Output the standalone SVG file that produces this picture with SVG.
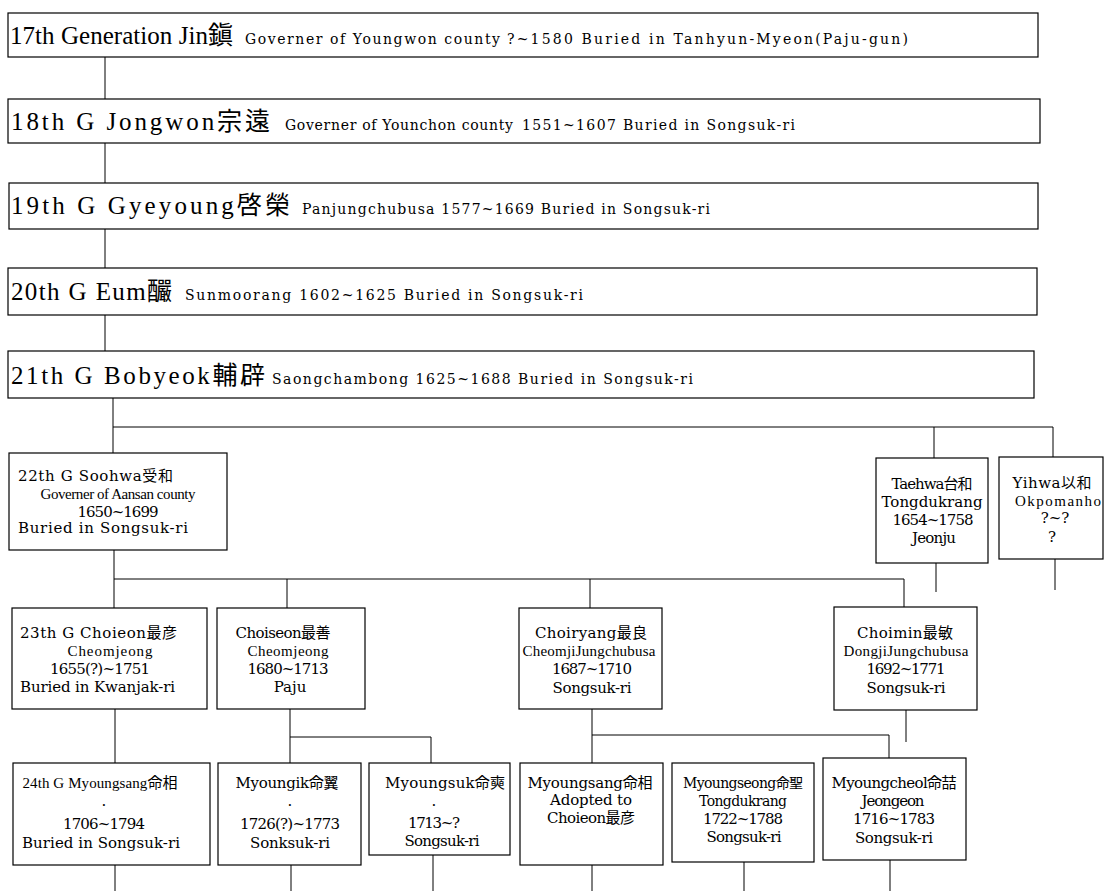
<svg xmlns="http://www.w3.org/2000/svg" width="1105" height="891" viewBox="0 0 1105 891">
<style>
text{font-family:"DejaVu Serif","Noto Sans CJK KR",serif;fill:#000}
.big{font-family:"Liberation Serif","Noto Sans CJK KR",serif;font-size:25px}
.sm{font-size:14px}
.n{font-size:15px}
.s14{font-size:14px}
.cd{font-family:"Liberation Serif","Noto Sans CJK KR",serif;font-size:15px}
.c{text-anchor:middle}
rect{fill:#fff;stroke:#000;stroke-width:1.2}
#connectors path{fill:none;stroke:#000;stroke-width:1}
</style>
<rect x="0" y="0" width="1105" height="891" style="stroke:none"/>
<g id="connectors">
<path d="M105 57V99M105 143V183M105 229V268M105 315V351"/>
<path d="M113 398V453M113 427H1053M934 427V458M1053 427V457"/>
<path d="M936 563V592M1055 559V590"/>
<path d="M114 550V608M114 579H904M287 579V608M590 579V608M904 579V607"/>
<path d="M115 709V763"/>
<path d="M290 709V763M290 737H431V763"/>
<path d="M592 709V763M592 735H889V758"/>
<path d="M906 710V742"/>
<path d="M115 865V891M291 865V891M433 855V891M592 865V891M744 862V891M890 860V891"/>
</g>
<g id="g17">
<rect x="8" y="13" width="1030" height="44"/>
<text class="big" x="10" y="44" textLength="223">17th Generation Jin鎭</text>
<text class="sm" x="245" y="44" textLength="255">Governer of Youngwon county</text>
<text class="sm" x="507" y="44" textLength="401">?~1580 Buried in Tanhyun-Myeon(Paju-gun)</text>
</g>
<g id="g18">
<rect x="8" y="99" width="1032" height="44"/>
<text class="big" x="11" y="130" textLength="259">18th G Jongwon宗遠</text>
<text class="sm" x="285" y="130" textLength="228">Governer of Younchon county</text>
<text class="sm" x="522" y="130" textLength="273">1551~1607 Buried in Songsuk-ri</text>
</g>
<g id="g19">
<rect x="9" y="183" width="1029" height="46"/>
<text class="big" x="11" y="214" textLength="279">19th G Gyeyoung啓榮</text>
<text class="sm" x="302" y="214" textLength="408">Panjungchubusa 1577~1669 Buried in Songsuk-ri</text>
</g>
<g id="g20">
<rect x="8" y="268" width="1029" height="47"/>
<text class="big" x="11" y="300" textLength="161">20th G Eum釅</text>
<text class="sm" x="185" y="300" textLength="398">Sunmoorang 1602~1625 Buried in Songsuk-ri</text>
</g>
<g id="g21">
<rect x="8" y="351" width="1026" height="47"/>
<text class="big" x="11" y="384" textLength="254">21th G Bobyeok輔辟</text>
<text class="sm" x="272" y="384" textLength="421">Saongchambong 1625~1688 Buried in Songsuk-ri</text>
</g>
<g id="soohwa">
<rect x="9" y="453" width="218" height="97"/>
<text class="n" x="18" y="481" textLength="155">22th G Soohwa受和</text>
<text class="cd c" x="118" y="499" textLength="155">Governer of Aansan county</text>
<text class="n c" x="118" y="517" textLength="81">1650~1699</text>
<text class="n" x="18" y="533" textLength="170">Buried in Songsuk-ri</text>
</g>
<g id="taehwa">
<rect x="876" y="458" width="112" height="105"/>
<text class="n c" x="932" y="489" textLength="81">Taehwa台和</text>
<text class="n c" x="932" y="507" textLength="101">Tongdukrang</text>
<text class="n c" x="933" y="525" textLength="81">1654~1758</text>
<text class="n c" x="934" y="543" textLength="44">Jeonju</text>
</g>
<g id="yihwa">
<rect x="999" y="457" width="104" height="102"/>
<text class="n c" x="1052" y="488" textLength="79">Yihwa以和</text>
<text class="cd c" x="1058" y="506" textLength="86">Okpomanho</text>
<text class="n c" x="1055" y="523">?~?</text>
<text class="n c" x="1052" y="542">?</text>
</g>
<g id="choieon">
<rect x="12" y="608" width="195" height="101"/>
<text class="n" x="20" y="638" textLength="157">23th G Choieon最彦</text>
<text class="cd c" x="110" y="656" textLength="85">Cheomjeong</text>
<text class="n c" x="100" y="674" textLength="100">1655(?)~1751</text>
<text class="n" x="20" y="692" textLength="155">Buried in Kwanjak-ri</text>
</g>
<g id="choiseon">
<rect x="217" y="608" width="148" height="101"/>
<text class="n c" x="283" y="638" textLength="95">Choiseon最善</text>
<text class="cd c" x="288" y="656" textLength="81">Cheomjeong</text>
<text class="n c" x="288" y="674" textLength="81">1680~1713</text>
<text class="n c" x="290" y="692">Paju</text>
</g>
<g id="choiryang">
<rect x="519" y="608" width="143" height="101"/>
<text class="n c" x="591" y="638" textLength="112">Choiryang最良</text>
<text class="cd c" x="589" y="656" textLength="133">CheomjiJungchubusa</text>
<text class="n c" x="592" y="674" textLength="80">1687~1710</text>
<text class="n c" x="592" y="693" textLength="79">Songsuk-ri</text>
</g>
<g id="choimin">
<rect x="834" y="607" width="143" height="103"/>
<text class="n c" x="905" y="638" textLength="96">Choimin最敏</text>
<text class="cd c" x="906" y="656" textLength="125">DongjiJungchubusa</text>
<text class="n c" x="906" y="674" textLength="79">1692~1771</text>
<text class="n c" x="906" y="693" textLength="79">Songsuk-ri</text>
</g>
<g id="myoungsang24">
<rect x="13" y="763" width="197" height="102"/>
<text class="cd c" x="100" y="788" textLength="155">24th G Myoungsang命相</text>
<text class="n c" x="104" y="806">.</text>
<text class="n c" x="104" y="829" textLength="82">1706~1794</text>
<text class="n c" x="101" y="848" textLength="158">Buried in Songsuk-ri</text>
</g>
<g id="myoungik">
<rect x="218" y="763" width="143" height="102"/>
<text class="n c" x="287" y="788" textLength="103">Myoungik命翼</text>
<text class="n c" x="290" y="806">.</text>
<text class="n c" x="290" y="829" textLength="100">1726(?)~1773</text>
<text class="n c" x="290" y="848" textLength="80">Sonksuk-ri</text>
</g>
<g id="myoungsuk">
<rect x="369" y="763" width="141" height="92"/>
<text class="n c" x="445" y="788" textLength="120">Myoungsuk命奭</text>
<text class="n c" x="434" y="806">.</text>
<text class="n c" x="434" y="828" textLength="52">1713~?</text>
<text class="n c" x="442" y="846" textLength="75">Songsuk-ri</text>
</g>
<g id="myoungsang">
<rect x="520" y="763" width="143" height="102"/>
<text class="n c" x="590" y="788" textLength="125">Myoungsang命相</text>
<text class="n c" x="591" y="805" textLength="82">Adopted to</text>
<text class="n c" x="591" y="823" textLength="88">Choieon最彦</text>
</g>
<g id="myoungseong">
<rect x="672" y="763" width="142" height="99"/>
<text class="n s14 c" x="743" y="788" textLength="120">Myoungseong命聖</text>
<text class="n s14 c" x="743" y="806" textLength="88">Tongdukrang</text>
<text class="n c" x="743" y="824" textLength="80">1722~1788</text>
<text class="n c" x="744" y="842" textLength="75">Songsuk-ri</text>
</g>
<g id="myoungcheol">
<rect x="823" y="758" width="143" height="102"/>
<text class="n c" x="894" y="788" textLength="125">Myoungcheol命喆</text>
<text class="n c" x="893" y="806" textLength="63">Jeongeon</text>
<text class="n c" x="894" y="824" textLength="82">1716~1783</text>
<text class="n c" x="894" y="843" textLength="78">Songsuk-ri</text>
</g>
</svg>
